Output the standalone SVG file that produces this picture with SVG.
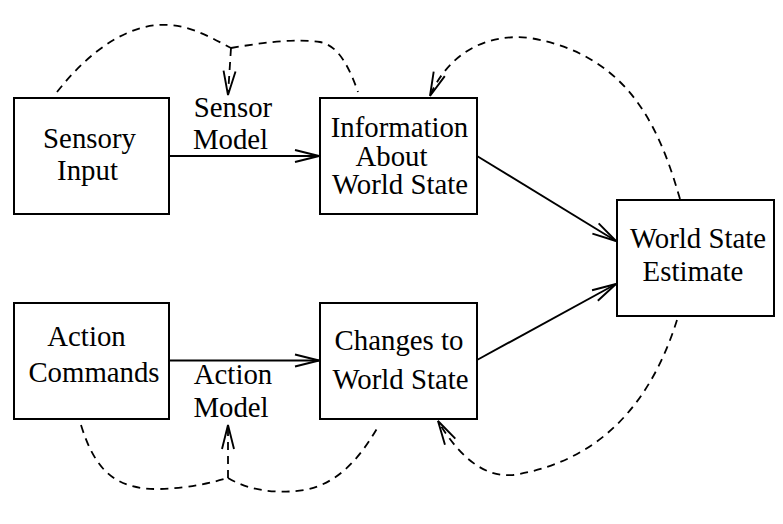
<svg xmlns="http://www.w3.org/2000/svg" width="783" height="524" viewBox="0 0 783 524">
<style>
.box{fill:#fff;stroke:#000;stroke-width:2}
.lbl{font-family:"Liberation Serif","Times New Roman",serif;font-size:28.8px;fill:#000;text-anchor:middle}
.solid{fill:none;stroke:#000;stroke-width:1.9}
.dash{fill:none;stroke:#000;stroke-width:1.8;stroke-dasharray:8 6}
</style>
<defs>
<marker id="arr" markerUnits="userSpaceOnUse" markerWidth="30" markerHeight="20" viewBox="-26 -10 30 20" refX="0" refY="0" orient="auto">
<path d="M-24,-6 L0,0 L-24,6" fill="none" stroke="#000" stroke-width="1.9"/>
</marker>
</defs>
<rect width="783" height="524" fill="#fff"/>
<g id="connectors">
<path class="solid" d="M169,156 L319,156" marker-end="url(#arr)"/>
<path class="solid" d="M169,360.5 L319,360.5" marker-end="url(#arr)"/>
<path class="solid" d="M477,156 L616,241" marker-end="url(#arr)"/>
<path class="solid" d="M477,360 L616,284" marker-end="url(#arr)"/>
<path class="dash" d="M57,92 C90,50 130,22 170,25 C195,27 215,40 231,48"/>
<path class="dash" d="M231,48 C260,43 295,38 320,42 C340,46 350,70 358,92"/>
<path class="dash" d="M231,48 L228,95" marker-end="url(#arr)"/>
<path class="dash" d="M680,199 C660,130 630,55 530,38 C480,32 445,60 430,96" marker-end="url(#arr)"/>
<path class="dash" d="M677,320 C655,390 610,460 513,475 C480,478 455,450 438,421" marker-end="url(#arr)"/>
<path class="dash" d="M81,425 C95,470 115,490 160,489 C190,488 210,483 228,478"/>
<path class="dash" d="M228,478 C245,488 270,495 305,490 C340,483 362,455 379,425"/>
<path class="dash" d="M228,478 L228,425" marker-end="url(#arr)"/>
</g>
<g id="sensory-input">
<rect class="box" x="14" y="98" width="155" height="116"/>
<text class="lbl" x="89.5" y="148">Sensory</text>
<text class="lbl" x="87.5" y="180">Input</text>
</g>
<g id="sensor-model">
<text class="lbl" x="233" y="117">Sensor</text>
<text class="lbl" x="230.5" y="149">Model</text>
</g>
<g id="information">
<rect class="box" x="320" y="98" width="157" height="116"/>
<text class="lbl" x="399.5" y="137">Information</text>
<text class="lbl" x="391.5" y="166">About</text>
<text class="lbl" x="400" y="194">World State</text>
</g>
<g id="world-state-estimate">
<rect class="box" x="617" y="200" width="157" height="116"/>
<text class="lbl" x="698" y="248">World State</text>
<text class="lbl" x="693" y="281">Estimate</text>
</g>
<g id="action-commands">
<rect class="box" x="14" y="303" width="155" height="116"/>
<text class="lbl" x="86.5" y="346">Action</text>
<text class="lbl" x="94" y="382">Commands</text>
</g>
<g id="action-model">
<text class="lbl" x="233" y="384">Action</text>
<text class="lbl" x="231" y="417">Model</text>
</g>
<g id="changes">
<rect class="box" x="320" y="303" width="157" height="116"/>
<text class="lbl" x="399" y="350">Changes to</text>
<text class="lbl" x="400.5" y="389">World State</text>
</g>
</svg>
